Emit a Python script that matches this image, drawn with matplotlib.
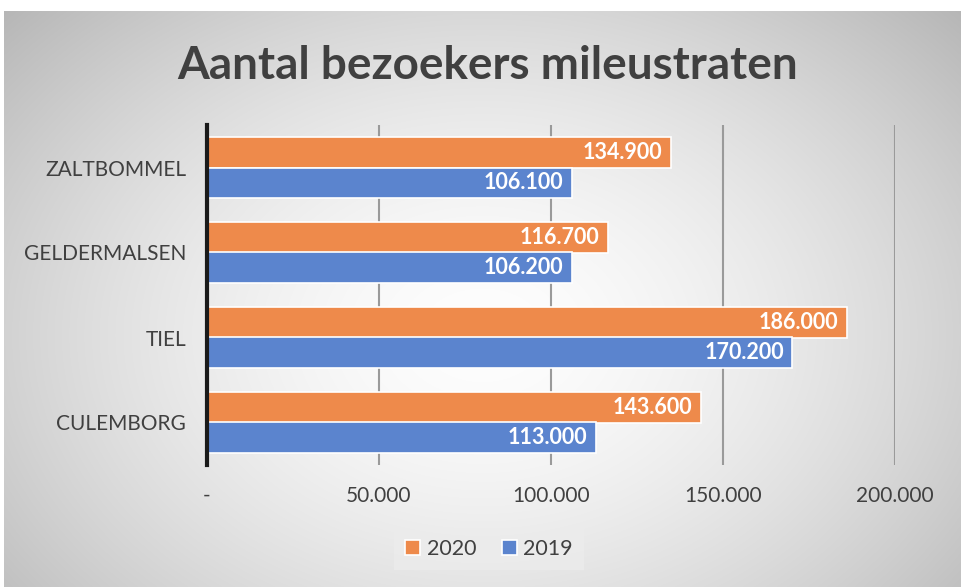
import matplotlib
matplotlib.use("Agg")
import matplotlib.pyplot as plt
import numpy as np

categories = ["CULEMBORG", "TIEL", "GELDERMALSEN", "ZALTBOMMEL"]
values_2020 = [143600, 186000, 116700, 134900]
values_2019 = [113000, 170200, 106200, 106100]
series_names = ["2020", "2019"]
xticks = [0, 50000, 100000, 150000, 200000]
xtick_labels = ["-", "50.000", "100.000", "150.000", "200.000"]

W, H = 961, 587
fig = plt.figure(figsize=(W / 100, H / 100), dpi=100)
fig.patch.set_facecolor("white")

# background panel with radial gradient
bg = fig.add_axes([0, 0, 1, 1], zorder=0)
bg.set_xlim(0, W)
bg.set_ylim(H, 0)
bg.axis("off")
yy, xx = np.mgrid[0:H, 0:W]
cx, cy = 480, 330
d = np.sqrt(((xx - cx) / 560.0) ** 2 + ((yy - cy) / 420.0) ** 2)
val = 0.995 - 0.22 * np.clip(d, 0, 1.2) ** 1.6
img = np.dstack([val, val, val])
bg.imshow(img, extent=[4, W, H, 11], aspect="auto", zorder=0)

ax = fig.add_axes([207 / W, 1 - 465 / H, (895 - 207) / W, (465 - 125) / H], zorder=1)
ax.patch.set_alpha(0)

y = np.arange(len(categories))
h = 0.355
c2020 = "#EE8A4B"
c2019 = "#5B84CE"
b1 = ax.barh(y + h / 2, values_2020, height=h, color=c2020, edgecolor="white", linewidth=1.2, zorder=3, label=series_names[0])
b2 = ax.barh(y - h / 2, values_2019, height=h, color=c2019, edgecolor="white", linewidth=1.2, zorder=3, label=series_names[1])

def fmt(v):
    return f"{v:,}".replace(",", ".")

for bars, vals in ((b1, values_2020), (b2, values_2019)):
    for bar, v in zip(bars, vals):
        ax.text(v - 2500, bar.get_y() + bar.get_height() / 2, fmt(v), ha="right", va="center",
                color="white", fontsize=15.5, fontweight="bold", family="Lato", zorder=4)

ax.set_xlim(0, 200000)
ax.set_ylim(-0.5, 3.5)
ax.set_xticks(xticks)
ax.set_xticklabels(xtick_labels, fontsize=15, color="#404040", family="Lato")
ax.set_yticks(y)
ax.set_yticklabels(categories, fontsize=15, color="#404040", family="Lato")
ax.tick_params(axis="both", length=0)
ax.tick_params(axis="x", pad=15)
ax.tick_params(axis="y", pad=15)
ax.grid(axis="x", color="#9a9a9a", linewidth=1.5, zorder=1)
for s in ["top", "right", "bottom"]:
    ax.spines[s].set_visible(False)
ax.spines["left"].set_color("#1a1a1a")
ax.spines["left"].set_linewidth(3)
ax.spines["left"].set_zorder(5)

fig.text(488 / W, 1 - 66 / H, "Aantal bezoekers mileustraten", ha="center", va="center",
         fontsize=33, fontweight="bold", color="#404040", family="Lato")

leg = fig.legend(handles=[b1, b2], labels=series_names, loc="center", bbox_to_anchor=(489 / W, 1 - 549 / H),
                 ncol=2, frameon=True, handlelength=0.7, handleheight=0.7,
                 handletextpad=0.3, columnspacing=1.2, borderpad=0.5, fancybox=False,
                 prop={"family": "Lato", "size": 15.5})
leg.get_frame().set_facecolor("#ececec")
leg.get_frame().set_edgecolor("none")
for t in leg.get_texts():
    t.set_color("#404040")

fig.savefig("out.png", dpi=100)
